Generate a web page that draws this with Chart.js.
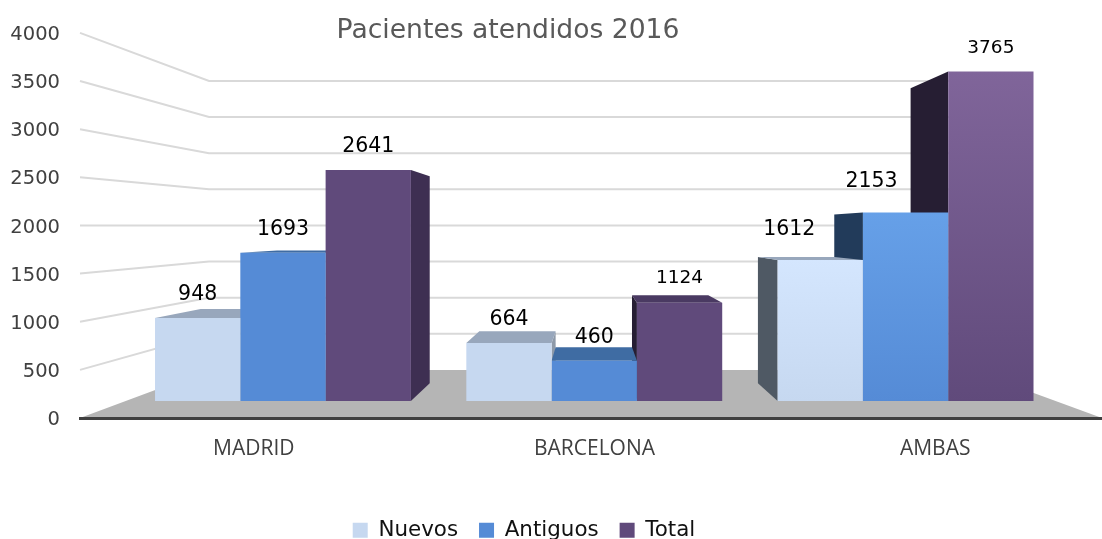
<!DOCTYPE html>
<html><head><meta charset="utf-8">
<style>html,body{margin:0;padding:0;background:#fff}#w{width:1102px;height:539px}</style>
<script src="https://cdn.jsdelivr.net/npm/chart.js@4"></script></head>
<body><div id="w"><canvas id="c"></canvas></div>
<script>
const categories = ['MADRID','BARCELONA','AMBAS'];
const seriesNames = ['Nuevos','Antiguos','Total'];
const nuevos = [948,664,1612];
const antiguos = [1693,460,2153];
const total = [2641,1124,3765];
const tickStep = 500;
const tickMax = 4000;
const titleText = 'Pacientes atendidos 2016';

const front = ['#c6d8f0','#558bd6','#604a7b'];
const frontLight = ['#d4e6fe','#66a0e8','#80659a'];
const topFace = ['#98a7bc','#3f6ca3','#4a3a62'];
const leftFace = ['#4f5964','#223b5a','#261e33'];
const rightFace = ['#8e9aa9','#3f6ca3','#3e2f52'];
const VP = {x:590,y:231}, DEPTH = 0.895, ROOM = 0.747;
const labelDx = [[0,0,-31],[0,0,-34],[0,0,0]];
const labelDy = [[-23.5,-23.5,-30],[-23,-23.5,-31],[-23.5,-24,-23]];
const labelSize = [[20.5,20.5,20.5],[20.5,20.5,20.5],[20.5,18.5,18.5]];
const FONT = '"DejaVu Sans"';

const proj = (x,y,k)=>({x:VP.x+k*(x-VP.x), y:VP.y+k*(y-VP.y)});
function poly(ctx,pts,fill){ctx.beginPath();pts.forEach((p,i)=>i?ctx.lineTo(p.x,p.y):ctx.moveTo(p.x,p.y));ctx.closePath();ctx.fillStyle=fill;ctx.fill();}

const scene = {
  id:'scene',
  afterLayout(chart){
    const t=chart.titleBlock; t.left-=43; t.right-=43; const th=t.bottom-t.top; t.top=15; t.bottom=t.top+th;
    const l=chart.legend; l.left-=27; l.right-=27; const h=l.bottom-l.top; l.top=498.5; l.bottom=498.5+h;
  },
  beforeDraw(chart){
    const {ctx,chartArea:a,scales}=chart;
    const bl=proj(a.left,a.bottom,ROOM);
    const fy=scales.yBack.getPixelForValue(0);
    poly(ctx,[{x:a.left,y:a.bottom},{x:bl.x,y:fy},{x:2*VP.x-bl.x,y:fy},{x:a.right,y:a.bottom}],'#b5b5b5');
    ctx.save();ctx.strokeStyle='#d9d9d9';ctx.lineWidth=2;
    for(let v=tickStep;v<=tickMax;v+=tickStep){
      const y=scales.y.getPixelForValue(v), yb=scales.yBack.getPixelForValue(v);
      ctx.beginPath();ctx.moveTo(a.left,y);ctx.lineTo(bl.x,yb);ctx.lineTo(2*VP.x-bl.x,yb);ctx.stroke();
    }
    ctx.restore();
  },
  beforeDatasetsDraw(chart){
    const ctx=chart.ctx, bars=[];
    chart.data.datasets.forEach((d,s)=>chart.getDatasetMeta(s).data.forEach(b=>bars.push({b,s})));
    bars.sort((p,q)=>Math.abs(q.b.x-VP.x)-Math.abs(p.b.x-VP.x));
    bars.forEach(({b,s})=>{
      const l=b.x-b.width/2,r=b.x+b.width/2,t=b.y,g=b.base;
      if(r<VP.x) poly(ctx,[{x:r,y:t},proj(r,t,DEPTH),proj(r,g,DEPTH),{x:r,y:g}],rightFace[s]);
      if(l>VP.x) poly(ctx,[{x:l,y:t},proj(l,t,DEPTH),proj(l,g,DEPTH),{x:l,y:g}],leftFace[s]);
      if(t>VP.y) poly(ctx,[{x:l,y:t},{x:r,y:t},proj(r,t,DEPTH),proj(l,t,DEPTH)],topFace[s]);
    });
  },
  afterDatasetsDraw(chart){
    const ctx=chart.ctx;
    ctx.save();ctx.textAlign='center';ctx.textBaseline='middle';ctx.fillStyle='#000';
    chart.data.datasets.forEach((d,s)=>chart.getDatasetMeta(s).data.forEach((b,i)=>{
      ctx.font=labelSize[s][i]+'px '+FONT;
      ctx.fillText(String(d.data[i].y),b.x+labelDx[s][i],b.y+labelDy[s][i]);
    }));
    ctx.restore();
  }
};

function frontFill(s){return c=>{
  if(c.dataIndex!==2||!c.chart.chartArea) return front[s];
  const sc=c.chart.scales.yb, g=c.chart.ctx.createLinearGradient(0,sc.getPixelForValue(c.raw.y),0,sc.getPixelForValue(0));
  g.addColorStop(0,frontLight[s]);g.addColorStop(1,front[s]);return g;};}
const mk=(name,vals,s)=>({label:name,data:vals.map((v,i)=>({x:i,y:v})),xAxisID:'xb',yAxisID:'yb',
  backgroundColor:frontFill(s),borderWidth:0,barPercentage:1,categoryPercentage:0.822});

new Chart(document.getElementById('c'),{
  type:'bar',
  data:{labels:categories,datasets:[mk(seriesNames[0],nuevos,0),mk(seriesNames[1],antiguos,1),mk(seriesNames[2],total,2)]},
  plugins:[scene],
  options:{
    responsive:true,maintainAspectRatio:false,animation:false,
    layout:{padding:{top:1,left:0,right:0,bottom:0}},
    plugins:{
      tooltip:{enabled:false},
      title:{display:true,text:titleText,padding:0,color:'#595959',font:{family:FONT,size:26.6,weight:'normal',lineHeight:1.2}},
      legend:{display:true,position:'bottom',labels:{boxWidth:15,boxHeight:15,padding:21,color:'#111',font:{family:FONT,size:21.4}}}
    },
    scales:{
      x:{type:'category',offset:true,grid:{display:false,drawTicks:false},border:{display:true,color:'#404040',width:3,z:1},
        afterFit(s){s.height=68.6;},
        ticks:{padding:18,labelOffset:3.5,color:'#404040',font:{family:'"Open Sans"',size:21}}},
      y:{type:'linear',position:'left',min:0,max:tickMax,grid:{display:false,drawTicks:false},border:{display:false},
        afterFit(s){s.width=80;},
        ticks:{stepSize:tickStep,padding:20,labelOffset:2,color:'#404040',font:{family:FONT,size:19.5},callback:v=>String(v)}},
      xb:{type:'linear',display:false,offset:false,min:-0.652,max:2.631,grid:{display:false},
        afterBuildTicks(s){s.ticks=categories.map((c,i)=>({value:i}));}},
      yb:{type:'linear',display:false,min:-194,max:4206,grid:{display:false}},
      yBack:{type:'linear',display:false,min:-664,max:4664,grid:{display:false}}
    }
  }
});
</script></body></html>
